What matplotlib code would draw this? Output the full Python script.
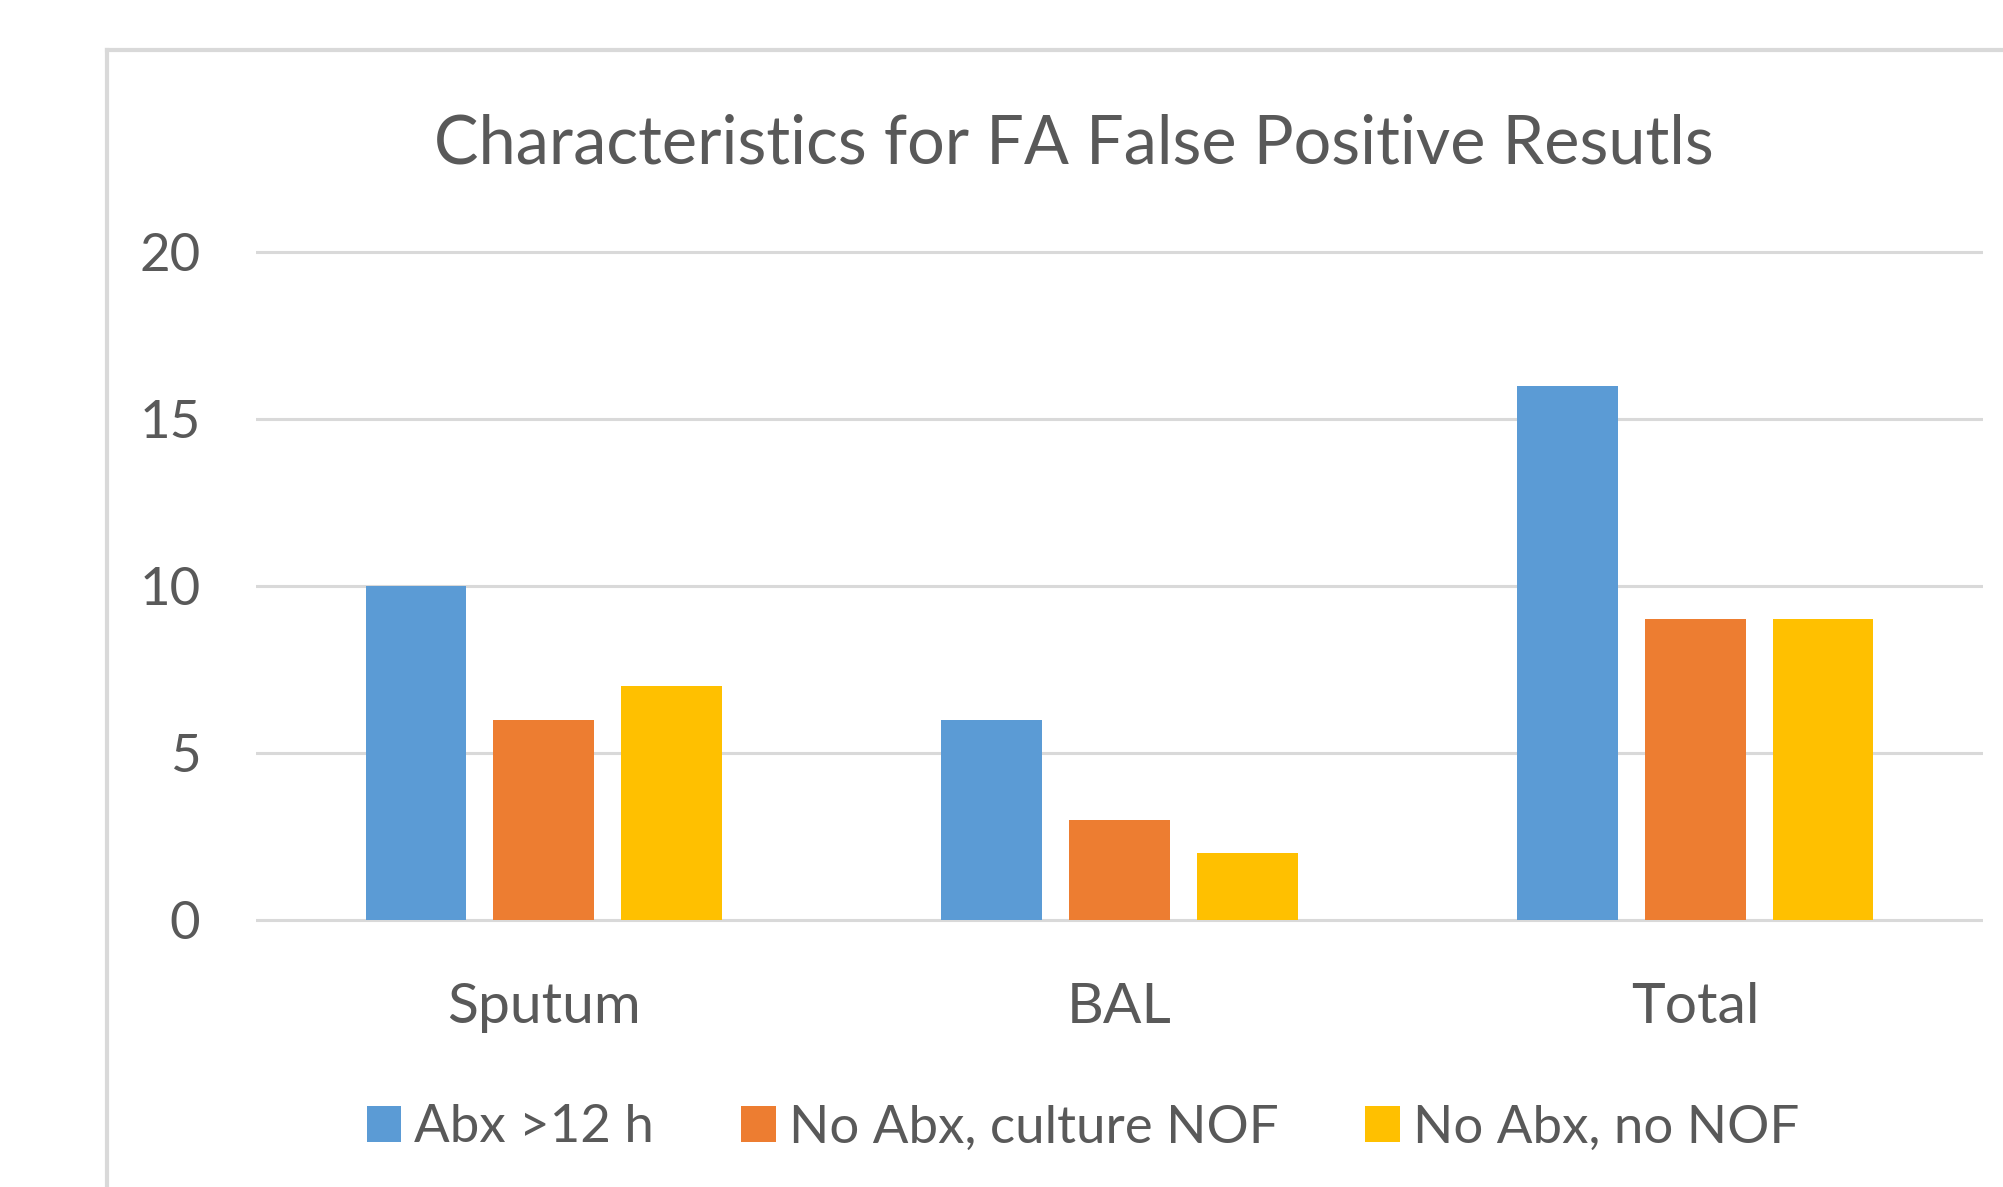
import matplotlib
matplotlib.use('Agg')
import matplotlib.pyplot as plt
from matplotlib.patches import Patch
from matplotlib.lines import Line2D
import numpy as np

# данные диаграммы
categories = ['Sputum', 'BAL', 'Total']
series_names = ['Abx >12 h', 'No Abx, culture NOF', 'No Abx, no NOF']
abx_12h = [10, 6, 16]
no_abx_culture_nof = [6, 3, 9]
no_abx_no_nof = [7, 2, 9]
y_ticks = [0, 5, 10, 15, 20]

colors = ['#5B9BD5', '#ED7D31', '#FFC000']
text_color = '#595959'
grid_color = '#D9D9D9'

plt.rcParams['font.family'] = ['Lato', 'DejaVu Sans']

W, H = 2003, 1187
fig = plt.figure(figsize=(W / 100, H / 100), dpi=100)

# оси в пикселях исходной картинки
x0, x1 = 256, 1983
y_top, y_bot = 245.3, 926.7
ax = fig.add_axes([x0 / W, 1 - y_bot / H, (x1 - x0) / W, (y_bot - y_top) / H])

x = np.arange(len(categories))
width = 0.175
step = 0.222
for i, vals in enumerate([abx_12h, no_abx_culture_nof, no_abx_no_nof]):
    ax.bar(x + (i - 1) * step, vals, width, color=colors[i], zorder=3)

ax.set_xlim(-0.5, 2.5)
ax.set_ylim(-0.2, 20.2)
ax.set_yticks(y_ticks)
ax.set_xticks(x)
ax.set_xticklabels(categories)
ax.grid(axis='y', color=grid_color, linewidth=2.2, zorder=0)
for s in ax.spines.values():
    s.set_visible(False)
ax.tick_params(axis='both', length=0, colors=text_color, labelsize=38)
ax.tick_params(axis='y', pad=40)
ax.tick_params(axis='x', pad=40, labelsize=41)

# заголовок
fig.text(1074 / W, 1 - 145 / H, 'Characteristics for FA False Positive Resutls',
         ha='center', va='center', fontsize=48, color=text_color)

# легенда
handles = [Patch(facecolor=c, edgecolor='none') for c in colors]
fig.legend(handles, series_names, loc='center', bbox_to_anchor=(1083 / W, 1 - 1128 / H),
           ncol=3, frameon=False, fontsize=38, labelcolor=text_color,
           handlelength=0.65, handleheight=0.65, handletextpad=0.25, columnspacing=1.65)

# рамка области диаграммы
fig.add_artist(Line2D([107 / W, 107 / W], [0, 1 - 50 / H], color=grid_color, linewidth=3))
fig.add_artist(Line2D([107 / W, 1], [1 - 50 / H, 1 - 50 / H], color=grid_color, linewidth=3))

fig.savefig('out.png', dpi=100, facecolor='white')
